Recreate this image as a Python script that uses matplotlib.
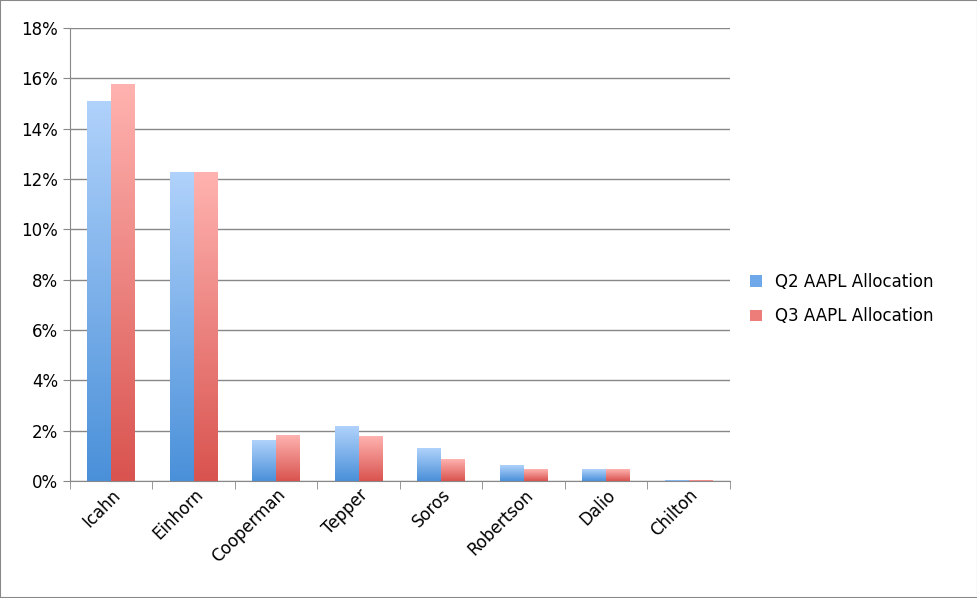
import matplotlib
matplotlib.use("Agg")
import matplotlib.pyplot as plt
import numpy as np
from matplotlib.colors import LinearSegmentedColormap
from matplotlib.patches import Rectangle

categories = ["Icahn", "Einhorn", "Cooperman", "Tepper", "Soros", "Robertson", "Dalio", "Chilton"]
q2 = [15.06, 12.24, 1.59, 2.18, 1.31, 0.60, 0.44, 0.02]
q3 = [15.77, 12.24, 1.79, 1.75, 0.87, 0.44, 0.44, 0.02]
series = [("Q2 AAPL Allocation", q2, "#4a90d9", "#b0d2fb"),
          ("Q3 AAPL Allocation", q3, "#d9534f", "#ffb3b0")]

fig = plt.figure(figsize=(9.78, 5.98), dpi=100)
fig.patches.append(Rectangle((0, 0), 1, 1, transform=fig.transFigure, fill=False,
                             edgecolor="#888888", linewidth=1.5))
ax = fig.add_axes([70/978, 117/598, 660/978, 453/598])
ax.set_xlim(-0.5, len(categories) - 0.5)
ax.set_ylim(0, 18)
w = 0.29
grad = np.linspace(0, 1, 256).reshape(-1, 1)
for k, (name, vals, dark, light) in enumerate(series):
    cmap = LinearSegmentedColormap.from_list(name, [dark, light])
    for i, v in enumerate(vals):
        x0 = i - w + k * w
        ax.imshow(grad, cmap=cmap, origin="lower", aspect="auto",
                  extent=(x0, x0 + w, 0, v), zorder=3, interpolation="bilinear")
    ax.bar([0], [0], color=(dark if False else "#6fa8e8") if k == 0 else "#ec7d79", label=name)
ax.set_xlim(-0.5, len(categories) - 0.5)
ax.set_ylim(0, 18)
ax.set_yticks(range(0, 19, 2))
ax.set_yticklabels([f"{t}%" for t in range(0, 19, 2)], fontsize=12)
ax.set_xticks(range(len(categories)))
ax.set_xticklabels(categories, rotation=45, ha="right", rotation_mode="anchor", fontsize=12)
ax.grid(axis="y", color="#888888", linewidth=1, zorder=0)
ax.set_axisbelow(True)
for s in ["top", "right"]:
    ax.spines[s].set_visible(False)
ax.spines["left"].set_color("#888888")
ax.spines["bottom"].set_color("#888888")
ax.tick_params(axis="y", length=5, color="#888888")
ax.tick_params(axis="x", length=5, color="#888888")
ax.set_xticks(np.arange(-0.5, len(categories)), minor=True)
ax.tick_params(axis="x", which="minor", length=6, color="#888888")
ax.tick_params(axis="x", which="major", length=0)
fig.legend(loc="center left", bbox_to_anchor=(735/978, 0.5), frameon=False, fontsize=12,
           handlelength=0.7, handleheight=0.7, labelspacing=1.0)
fig.savefig("out.png", dpi=100)
